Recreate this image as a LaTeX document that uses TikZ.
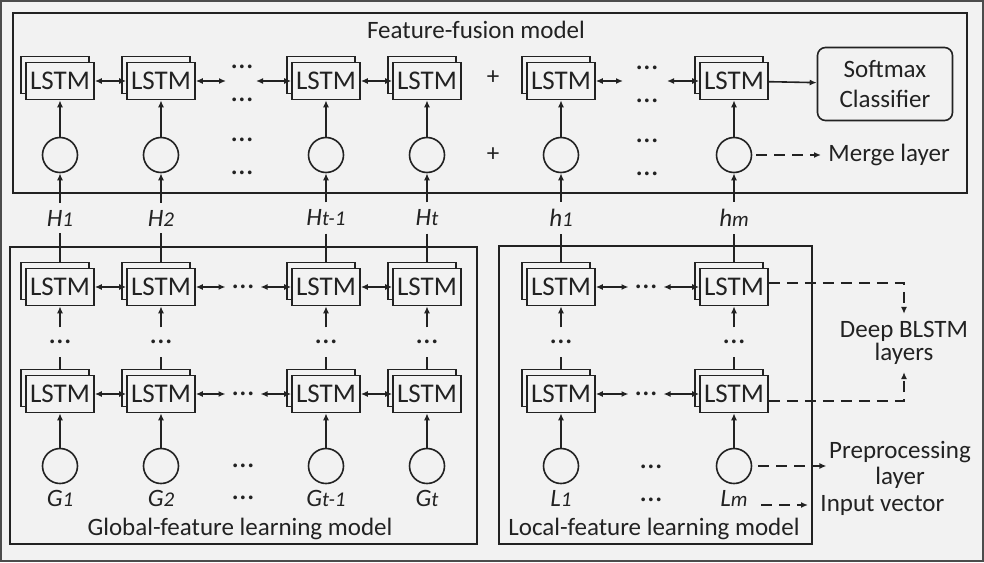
\documentclass[tikz,border=0pt]{standalone}
\usepackage{fontspec}
\setmainfont{Carlito}
\usepackage{tikz}
\usetikzlibrary{arrows.meta,shadows}
\definecolor{grund}{HTML}{F2F2F2}
\definecolor{tinte}{HTML}{222222}
\newcommand{\vn}[2]{\textit{#1}{\fontsize{10.5}{12}\selectfont\textit{#2}}}

\begin{document}
\begin{tikzpicture}[x=.5pt, y=-.5pt, line width=.8pt, draw=tinte,
    >={Latex[length=3.5pt,width=3pt]},
    every node/.style={font=\fontsize{12.5}{14}\selectfont, text=tinte},
    lstm/.style={draw, fill=grund, minimum width=34pt, minimum height=18.5pt, inner sep=0pt,
        font=\fontsize{13.5}{14}\selectfont,
        copy shadow={shadow xshift=-2.5pt, shadow yshift=3pt}},
    kreis/.style={draw, circle, minimum size=17.5pt, inner sep=0pt},
    punkte/.style={inner xsep=3pt, inner ysep=6pt, font=\fontsize{15.5}{16}\selectfont},
    gestr/.style={dash pattern=on 5.5pt off 3.5pt}]
    \useasboundingbox (0,0) rectangle (984,562);
    \fill[grund] (0,0) rectangle (984,562);
    \draw[black!70] (1,1) rectangle (983,561);

    % Rahmen.
    \draw (13,13) rectangle (967,193);
    \draw (10,247) rectangle (477,544);
    \draw (499,246) rectangle (812,544);
    \node (fusion) at (476,30) {Feature-fusion model};
    \node (global) at (240,529) {Global-feature learning model};
    \node (lokal) at (654,529) {Local-feature learning model};

    % Fusionsschicht.
    \foreach \n/\x/\lab in {1/60/\vn{H}{1}, 2/161/\vn{H}{2}, 3/326/\vn{H}{t-1}, 4/427/\vn{H}{t}, 5/561/\vn{h}{1}, 6/734/\vn{h}{m}}
    {
        \node[lstm] (f\n) at (\x,81) {LSTM};
        \node[kreis] (m\n) at (\x,155) {};
        \node (h\n) at (\x,218) {\lab};
        \draw[->] (m\n) -- (f\n);
        \draw[->] (h\n) -- (m\n);
    }
    \foreach \y in {67,100,140,173}
    {
        \node[punkte] (pa\y) at (242,\y) {\dots};
        \node[punkte] (pb\y) at (647,\y+1) {\dots};
    }
    \node (plus1) at (493,78) {+};
    \node (plus2) at (493,155) {+};
    \node[draw, rounded corners=4pt, minimum width=67.5pt, minimum height=36.5pt, align=center,
        font=\fontsize{12.5}{15}\selectfont] (soft) at (885,84) {Softmax\\Classifier};
    \coordinate (fl1) at (226,81);
    \coordinate (fl2) at (256,81);
    \coordinate (fl3) at (623,81);
    \coordinate (fl4) at (667,81);
    \draw[<->] (f1) -- (f2);
    \draw[<->] (f2) -- (fl1);
    \draw[<->] (fl2) -- (f3);
    \draw[<->] (f3) -- (f4);
    \draw[<->] (f5) -- (fl3);
    \draw[<->] (fl4) -- (f6);
    \draw[->] (f6) -- (soft);
    \node[anchor=west] (merge) at (821,155) {Merge layer};
    \draw[gestr,->] ([xshift=2pt]m6.east) -- (merge);

    % BLSTM-Schichten.
    \foreach \n/\x/\lab in {1/60/\vn{G}{1}, 2/161/\vn{G}{2}, 3/326/\vn{G}{t-1}, 4/427/\vn{G}{t}, 5/561/\vn{L}{1}, 6/734/\vn{L}{m}}
    {
        \node[lstm] (o\n) at (\x,287) {LSTM};
        \node[punkte] (v\n) at (\x,342) {\dots};
        \node[lstm] (u\n) at (\x,394) {LSTM};
        \node[kreis] (k\n) at (\x,466) {};
        \node (e\n) at (\x,498) {\lab};
        \draw (h\n) -- ([yshift=3pt]o\n.north);
        \draw[->] (v\n) -- (o\n);
        \draw ([yshift=3pt]u\n.north) -- (v\n);
        \draw[->] (k\n) -- (u\n);
    }
    \node[punkte] (pg1) at (243,287) {\dots};
    \node[punkte] (pg2) at (243,394) {\dots};
    \node[punkte] (pg3) at (243,466) {\dots};
    \node[punkte] (pg4) at (243,498) {\dots};
    \node[punkte] (pl1) at (646,287) {\dots};
    \node[punkte] (pl2) at (646,394) {\dots};
    \node[punkte] (pl3) at (651,467) {\dots};
    \node[punkte] (pl4) at (651,500) {\dots};
    \foreach \r/\p/\q in {o/pg1/pl1, u/pg2/pl2}
    {
        \draw[<->] (\r1) -- (\r2);
        \draw[<->] (\r2) -- (\p);
        \draw[<->] (\p) -- (\r3);
        \draw[<->] (\r3) -- (\r4);
        \draw[<->] (\r5) -- (\q);
        \draw[<->] (\q) -- (\r6);
    }

    % Erklaerungen.
    \node[align=center, font=\fontsize{12.5}{11.5}\selectfont] (deep) at (904,343) {Deep BLSTM\\layers};
    \draw[gestr,->] ([yshift=2pt]o6.east) -| (deep.north);
    \draw[gestr,->] ([yshift=-3.5pt]u6.east) -| (deep.south);
    \node[align=center, inner xsep=1pt, font=\fontsize{12.5}{13}\selectfont] (prep) at (900,465) {Preprocessing\\layer};
    \draw[gestr,->] ([xshift=3pt]k6.east) -- (k6.east -| prep.west);
    \node[anchor=west] (input) at (813,505) {Input vector};
    \draw[gestr,->] ([xshift=3pt]input.west -| e6.east) -- ([xshift=-2.5pt]input.west);
\end{tikzpicture}
\end{document}
